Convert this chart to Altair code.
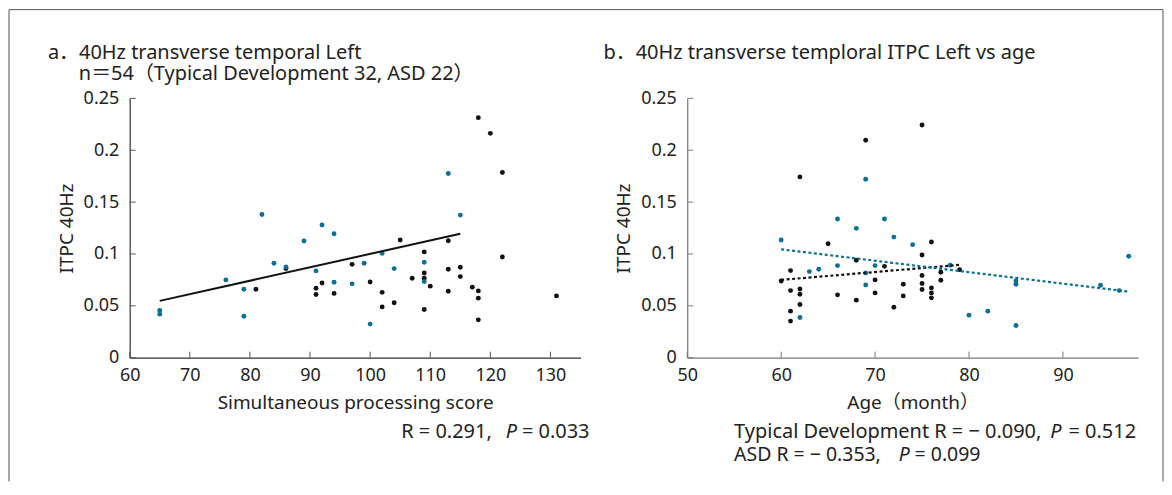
import altair as alt
import pandas as pd

FONT = "'Noto Sans', 'Noto Sans CJK JP', sans-serif"
BLUE = "#0b6f9a"
BLACK = "#111111"
TXT = "#222222"
FS = 18
FT = 20  # titles and statistics text

# ---------------- Panel a data ----------------
a_td_x = [81, 86, 91, 91, 92, 94, 97, 100, 102, 102, 104, 105, 107, 109, 109, 109, 109, 110,
          113, 113, 113, 115, 115, 117, 118, 118, 118, 118, 120, 122, 122, 131]
a_td_y = [0.066, 0.086, 0.067, 0.061, 0.072, 0.062, 0.090, 0.073, 0.063, 0.049, 0.053, 0.1135,
          0.0766, 0.102, 0.0817, 0.0766, 0.0465, 0.069, 0.1128, 0.0853, 0.0641, 0.0872, 0.0782,
          0.068, 0.2314, 0.0644, 0.0574, 0.0365, 0.2163, 0.1785, 0.0971, 0.0596]
a_asd_x = [65, 65, 76, 79, 79, 82, 84, 86, 89, 91, 92, 94, 94, 97, 99, 100, 102, 104, 109, 109, 113, 115]
a_asd_y = [0.0455, 0.042, 0.075, 0.066, 0.040, 0.138, 0.091, 0.0875, 0.1125, 0.0837, 0.128, 0.1195,
           0.0728, 0.0712, 0.091, 0.0324, 0.1007, 0.0859, 0.092, 0.0734, 0.1776, 0.1375]
a_fit_x = [65, 115]
a_fit_y = [0.0548, 0.1195]
a_xticks = [60, 70, 80, 90, 100, 110, 120, 130]

# ---------------- Panel b data ----------------
b_td_x = [60, 61, 61, 61, 61, 62, 62, 62, 62, 65, 66, 68, 68, 69, 70, 70, 71, 72, 73, 73,
          75, 75, 75, 75, 75, 76, 76, 76, 76, 77, 77, 79]
b_td_y = [0.074, 0.084, 0.0647, 0.0449, 0.0353, 0.1743, 0.0663, 0.0612, 0.0513, 0.1099, 0.0606,
          0.0939, 0.0555, 0.2096, 0.075, 0.0625, 0.0881, 0.0487, 0.0708, 0.0596, 0.2243, 0.099,
          0.0792, 0.0715, 0.0657, 0.1115, 0.0673, 0.0625, 0.0577, 0.0824, 0.0747, 0.0849]
b_asd_x = [60, 62, 63, 64, 66, 66, 68, 69, 69, 69, 70, 71, 72, 74, 78, 80, 82, 85, 85, 85, 94, 96, 97]
b_asd_y = [0.1135, 0.0388, 0.083, 0.0853, 0.1337, 0.0888, 0.1247, 0.1721, 0.0817, 0.0702, 0.0888,
           0.1337, 0.1163, 0.109, 0.0891, 0.041, 0.0449, 0.074, 0.0708, 0.0311, 0.0699, 0.0647, 0.0978]
b_td_fit_x = [60, 79]
b_td_fit_y = [0.075, 0.0895]
b_asd_fit_x = [60, 97]
b_asd_fit_y = [0.1045, 0.0637]
b_xticks = [50, 60, 70, 80, 90]

y_ticks = [0, 0.05, 0.1, 0.15, 0.2, 0.25]

W, H = 452, 260
GROUPS = ["TD", "ASD"]


def pts_df(tx, ty, ax, ay):
    return pd.DataFrame({
        "x": tx + ax,
        "y": ty + ay,
        "g": ["TD"] * len(tx) + ["ASD"] * len(ax),
    })


def text(t, x, y, align="left", italic=False, size=FT):
    return alt.Chart(alt.Data(values=[{"k": 0}])).mark_text(
        align=align, baseline="middle", font=FONT, fontSize=size, color=TXT,
        fontStyle="italic" if italic else "normal",
    ).encode(x=alt.value(x), y=alt.value(y), text=alt.value(t))


def panel(df, xdomain, xticks, xtitle, axis_col, tick_col):
    x_scale = alt.Scale(domain=xdomain, nice=False, zero=False)
    y_scale = alt.Scale(domain=[0, 0.25], nice=False, zero=True)
    common = dict(domainColor=axis_col, domainWidth=1.2, ticks=False, grid=False,
                  labelFont=FONT, labelFontSize=FS, labelColor=TXT, labelFlush=False,
                  labelOverlap=False,
                  titleFont=FONT, titleFontSize=19, titleColor=TXT, titleFontWeight="normal")
    x_axis = alt.Axis(values=xticks, format="d", title=xtitle,
                      labelPadding=9, titlePadding=9, **common)
    y_axis = alt.Axis(values=y_ticks, format="~g", title="ITPC 40Hz",
                      labelPadding=11, titlePadding=7, **common)
    color = alt.Color("g:N", scale=alt.Scale(domain=GROUPS, range=[BLACK, BLUE]), legend=None)
    points = alt.Chart(df).mark_circle(size=24, opacity=1).encode(
        x=alt.X("x:Q", scale=x_scale, axis=x_axis),
        y=alt.Y("y:Q", scale=y_scale, axis=y_axis),
        color=color,
    )
    ytk = alt.Chart(pd.DataFrame({"y": y_ticks})).mark_rule(color=tick_col, strokeWidth=1).encode(
        y=alt.Y("y:Q", scale=y_scale, axis=y_axis), x=alt.value(0), x2=alt.value(6))
    xtk = alt.Chart(pd.DataFrame({"x": xticks})).mark_rule(color=tick_col, strokeWidth=1).encode(
        x=alt.X("x:Q", scale=x_scale, axis=x_axis), y=alt.value(H), y2=alt.value(H - 6))
    return points, ytk, xtk, x_scale, y_scale, x_axis, y_axis, color


# ---------- Panel a ----------
dfa = pts_df(a_td_x, a_td_y, a_asd_x, a_asd_y)
pa, ytka, xtka, xsa, ysa, xaa, yaa, ca = panel(dfa, [60, 135], a_xticks,
                                               "Simultaneous processing score", "#333333", "#555555")
fit_a = alt.Chart(pd.DataFrame({"x": a_fit_x, "y": a_fit_y})).mark_line(color=BLACK, strokeWidth=2).encode(
    x=alt.X("x:Q", scale=xsa, axis=xaa), y=alt.Y("y:Q", scale=ysa, axis=yaa))

one = alt.Data(values=[{"k": 0}])
frame_col = "#555555"
frame_left = alt.Chart(one).mark_rule(color=frame_col, strokeWidth=1).encode(
    x=alt.value(-121), y=alt.value(-89), y2=alt.value(384))
frame_top = alt.Chart(one).mark_rule(color=frame_col, strokeWidth=1).encode(
    x=alt.value(-121), x2=alt.value(1036), y=alt.value(-89))
frame_right = alt.Chart(one).mark_rule(color=frame_col, strokeWidth=1).encode(
    x=alt.value(1036), y=alt.value(-89), y2=alt.value(384))

panel_a = alt.layer(
    pa, fit_a, ytka, xtka,
    frame_left, frame_top, frame_right,
    text("a．40Hz transverse temporal Left", -82, -45),
    text("n＝54（Typical Development 32, ASD 22）", -51, -24),
    text("R = 0.291,", 363, 335, align="right"),
    text("P", 377, 335, italic=True),
    text("= 0.033", 461, 335, align="right"),
).properties(width=W, height=H)

# ---------- Panel b ----------
dfb = pts_df(b_td_x, b_td_y, b_asd_x, b_asd_y)
pb, ytkb, xtkb, xsb, ysb, xab, yab, cb = panel(dfb, [50, 98], b_xticks, "Age（month）", "#777777", "#777777")
fit_df = pd.DataFrame({
    "x": b_td_fit_x + b_asd_fit_x,
    "y": b_td_fit_y + b_asd_fit_y,
    "g": ["TD"] * len(b_td_fit_x) + ["ASD"] * len(b_asd_fit_x),
})
fit_b = alt.Chart(fit_df).mark_line(strokeWidth=2.2, strokeDash=[3, 2.5]).encode(
    x=alt.X("x:Q", scale=xsb, axis=xab), y=alt.Y("y:Q", scale=ysb, axis=yab),
    color=cb, detail="g:N")

panel_b = alt.layer(
    pb, fit_b, ytkb, xtkb,
    text("b．40Hz transverse temploral ITPC Left vs age", -84, -45),
    text("Typical Development R = − 0.090,", 47, 335),
    text("P", 364, 335, italic=True),
    text("= 0.512", 450, 335, align="right"),
    text("ASD R = − 0.353,", 47, 358, size=19.5),
    text("P", 212, 358, italic=True, size=19.5),
    text("= 0.099", 294, 358, align="right", size=19.5),
).properties(width=W, height=H)

chart = alt.hconcat(panel_a, panel_b, spacing=107, bounds="flush").properties(
    padding=0, background="white"
).configure_view(stroke=None)

chart.save("out.html", embed_options={"renderer": "svg", "actions": False})
